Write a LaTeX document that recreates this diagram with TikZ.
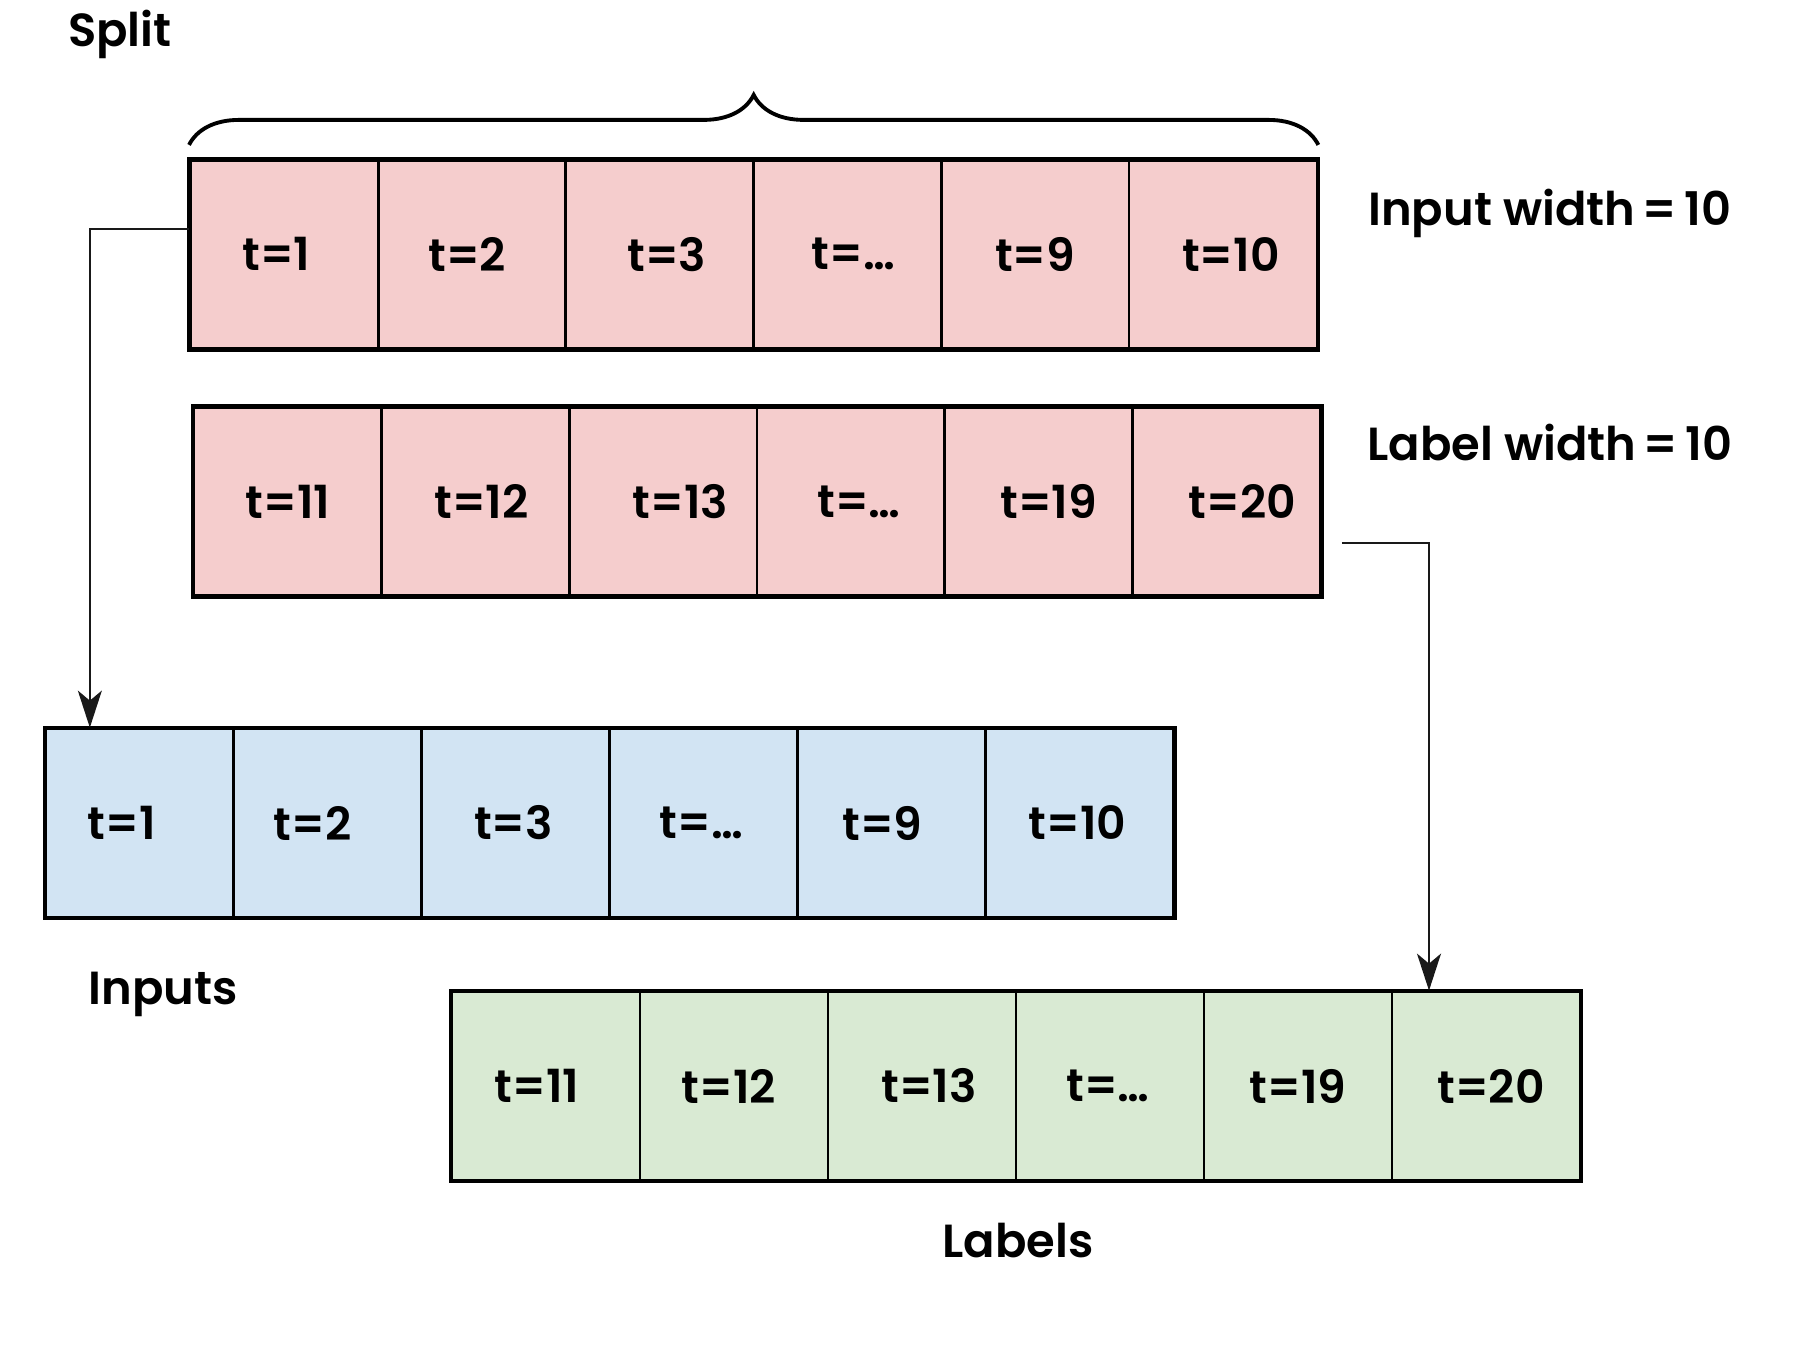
\documentclass[tikz,border=0pt]{standalone}
\usepackage{fontspec}
\setmainfont{Poppins}
\newfontfamily\cellfont{Poppins SemiBold}
\usetikzlibrary{arrows.meta,positioning,decorations.pathreplacing}
\definecolor{rosaSplit}{RGB}{245,205,205}
\definecolor{azulIn}{RGB}{210,228,243}
\definecolor{verdeLab}{RGB}{217,234,211}

\begin{document}
\begin{tikzpicture}[
  cell/.style  = {rectangle, minimum width=1.88cm, minimum height=1.88cm,
                  draw=black, line width=0.8pt, inner sep=0pt,
                  font=\fontsize{13}{15}\cellfont},
  title/.style = {inner sep=0pt, font=\fontsize{13.2}{16}\cellfont},
  frame/.style = {draw=black, line width=1.1pt},
  link/.style  = {-{Stealth[length=0.37cm,width=0.24cm,inset=0.1cm]},
                  line width=0.5pt, color=black!90},
]
\useasboundingbox (0,0) rectangle (18,-13.5);

% ── Split: ventana de entrada ────────────────────────────────
\foreach \t/\dx [count=\k] in {t=1/-0.08,t=2/-0.05,t=3/0.07,{t=\ldots}/0.06,t=9/0,t=10/0.08}
  \node[cell, fill=rosaSplit] (x\k) at ({1.906+(\k-0.5)*1.877},-2.543)
    {\hspace*{\dx cm}\t\hspace*{-\dx cm}};
\draw[frame] (x1.north west) rectangle (x6.south east);
\draw[frame, decorate, decoration={brace, amplitude=0.5cm}]
  ([yshift=0.14cm]x1.north west) -- ([yshift=0.14cm]x6.north east);

% ── Split: ventana de etiquetas ──────────────────────────────
\foreach \t/\dx [count=\k] in {t=11/0,t=12/0.06,t=13/0.17,{t=\ldots}/0.08,t=19/0.1,t=20/0.16}
  \node[cell, fill=rosaSplit] (y\k) at ({1.94+(\k-0.5)*1.877},-5.017)
    {\hspace*{\dx cm}\t\hspace*{-\dx cm}};
\draw[frame] (y1.north west) rectangle (y6.south east);

% ── Inputs ───────────────────────────────────────────────────
\foreach \t/\dx [count=\k] in {t=1/-0.18,t=2/-0.15,t=3/-0.02,{t=\ldots}/-0.02,t=9/-0.09,t=10/-0.02}
  \node[cell, fill=azulIn] (inp\k) at ({0.459+(\k-0.5)*1.879},-8.23)
    {\hspace*{\dx cm}\t\hspace*{-\dx cm}};
\draw[frame] (inp1.north west) rectangle (inp6.south east);

% ── Labels ───────────────────────────────────────────────────
\foreach \t/\dx [count=\k] in {t=11/-0.09,t=12/-0.05,t=13/0.07,{t=\ldots}/-0.02,t=19/0,t=20/0.05}
  \node[cell, fill=verdeLab] (lab\k) at ({4.52+(\k-0.5)*1.88},-10.86)
    {\hspace*{\dx cm}\t\hspace*{-\dx cm}};
\draw[frame] (lab1.north west) rectangle (lab6.south east);

% ── Textos ───────────────────────────────────────────────────
\node[title] (split)  at (1.20,-0.34)  {Split};
\node[title] (inW)    at (15.5,-2.135) {Input width\,=\,10};
\node[title] (labW)   at (15.5,-4.43)  {Label width\,=\,10};
\node[title] (inputs) at (1.63,-9.94)  {Inputs};
\node[title] (labels) at (10.18,-12.41){Labels};

% ── Flechas ──────────────────────────────────────────────────
\draw[link] ([yshift=0.25cm]x1.west) -| ([xshift=-0.5cm]inp1.north);
\draw[link] ([xshift=0.2cm,yshift=-0.41cm]y6.east) -| ([xshift=-0.57cm]lab6.north);

\end{tikzpicture}
\end{document}
